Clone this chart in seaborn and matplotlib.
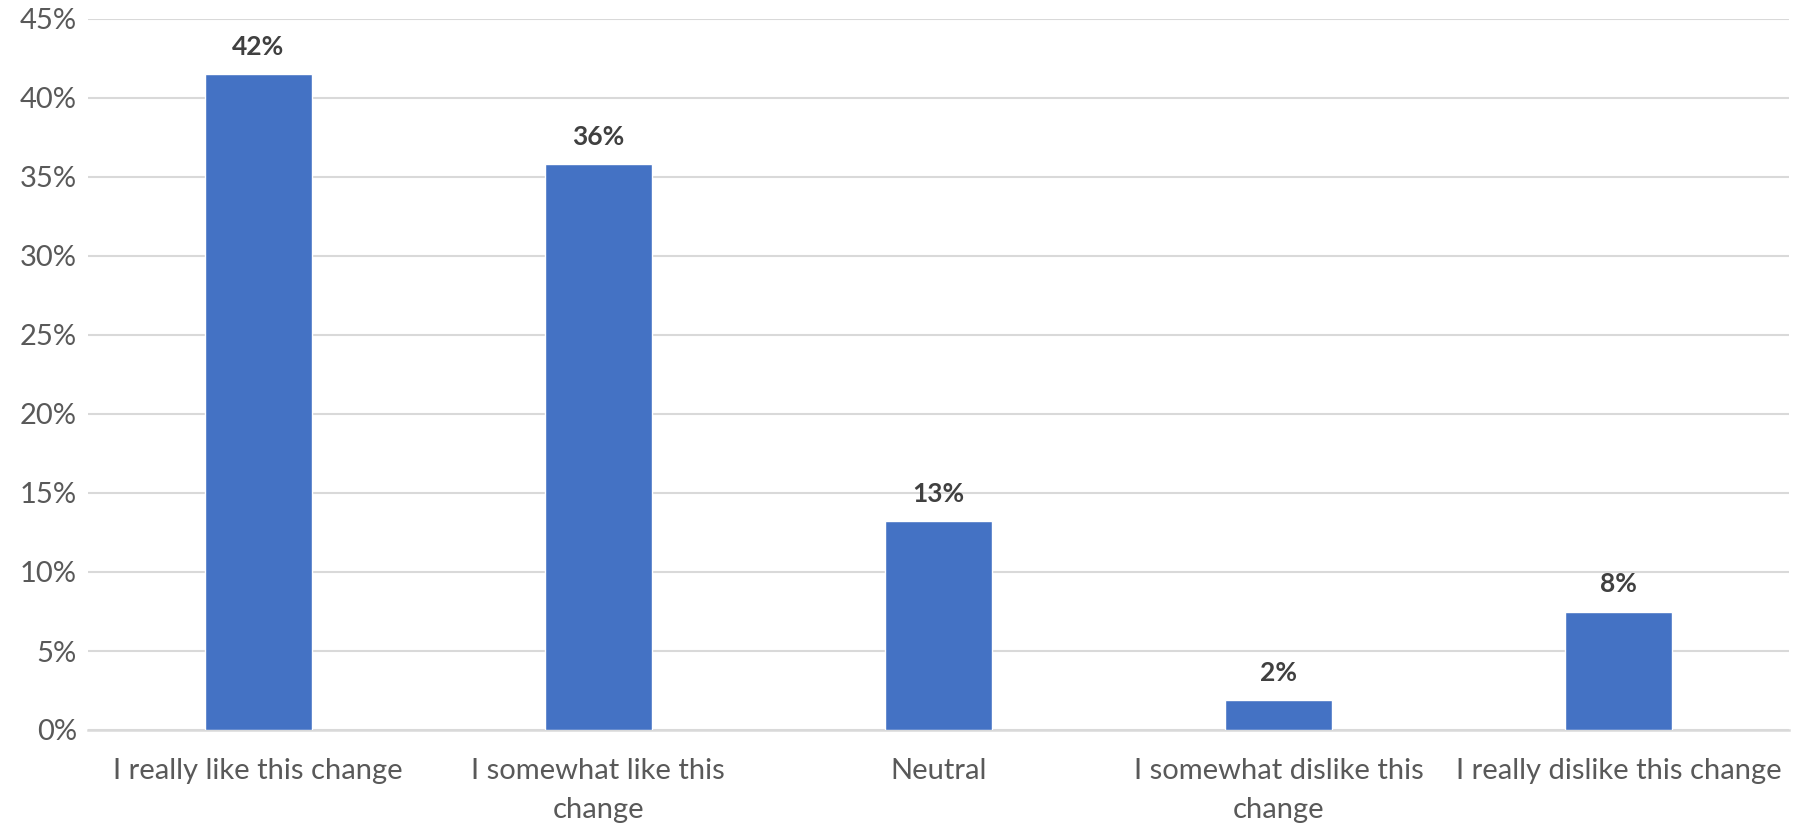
import matplotlib
matplotlib.use('Agg')
import matplotlib.pyplot as plt
import seaborn as sns
import pandas as pd
from matplotlib.ticker import MultipleLocator, FuncFormatter

categories = ['I really like this change', 'I somewhat like this\nchange', 'Neutral',
              'I somewhat dislike this\nchange', 'I really dislike this change']
shares = [41.5, 35.8, 13.2, 1.9, 7.5]
labels = ['42%', '36%', '13%', '2%', '8%']

df = pd.DataFrame({'answer': categories, 'share': shares})

sns.set_theme(style='white')
plt.rcParams['font.family'] = ['Lato', 'DejaVu Sans']

fig = plt.figure(figsize=(18.02, 8.27), dpi=100)
ax = fig.add_axes([88 / 1802, 1 - 730 / 827, 1701 / 1802, 711 / 827])

sns.barplot(data=df, x='answer', y='share', color='#4472C4', width=0.315,
            saturation=1, ax=ax, zorder=3)

ax.set_ylim(0, 45)
ax.yaxis.set_major_locator(MultipleLocator(5))
ax.yaxis.set_major_formatter(FuncFormatter(lambda v, p: f'{v:.0f}%'))
ax.grid(axis='y', color='#d9d9d9', linewidth=1.5, zorder=0)
ax.set_axisbelow(True)
for s in ['top', 'right', 'left']:
    ax.spines[s].set_visible(False)
ax.spines['bottom'].set_color('#d9d9d9')
ax.spines['bottom'].set_linewidth(1.8)
ax.set_xlabel('')
ax.set_ylabel('')
ax.tick_params(axis='both', length=0, labelsize=21, labelcolor='#595959')
ax.tick_params(axis='x', pad=20)
ax.tick_params(axis='y', pad=8)
for lab in ax.get_xticklabels():
    lab.set_linespacing(1.65)
    lab.set_verticalalignment('top')

for i, (v, t) in enumerate(zip(shares, labels)):
    ax.annotate(t, (i, v), xytext=(0, 11), textcoords='offset points',
                ha='center', va='bottom', fontsize=19, fontweight='bold', color='#404040')

fig.savefig('out.png', dpi=100)
